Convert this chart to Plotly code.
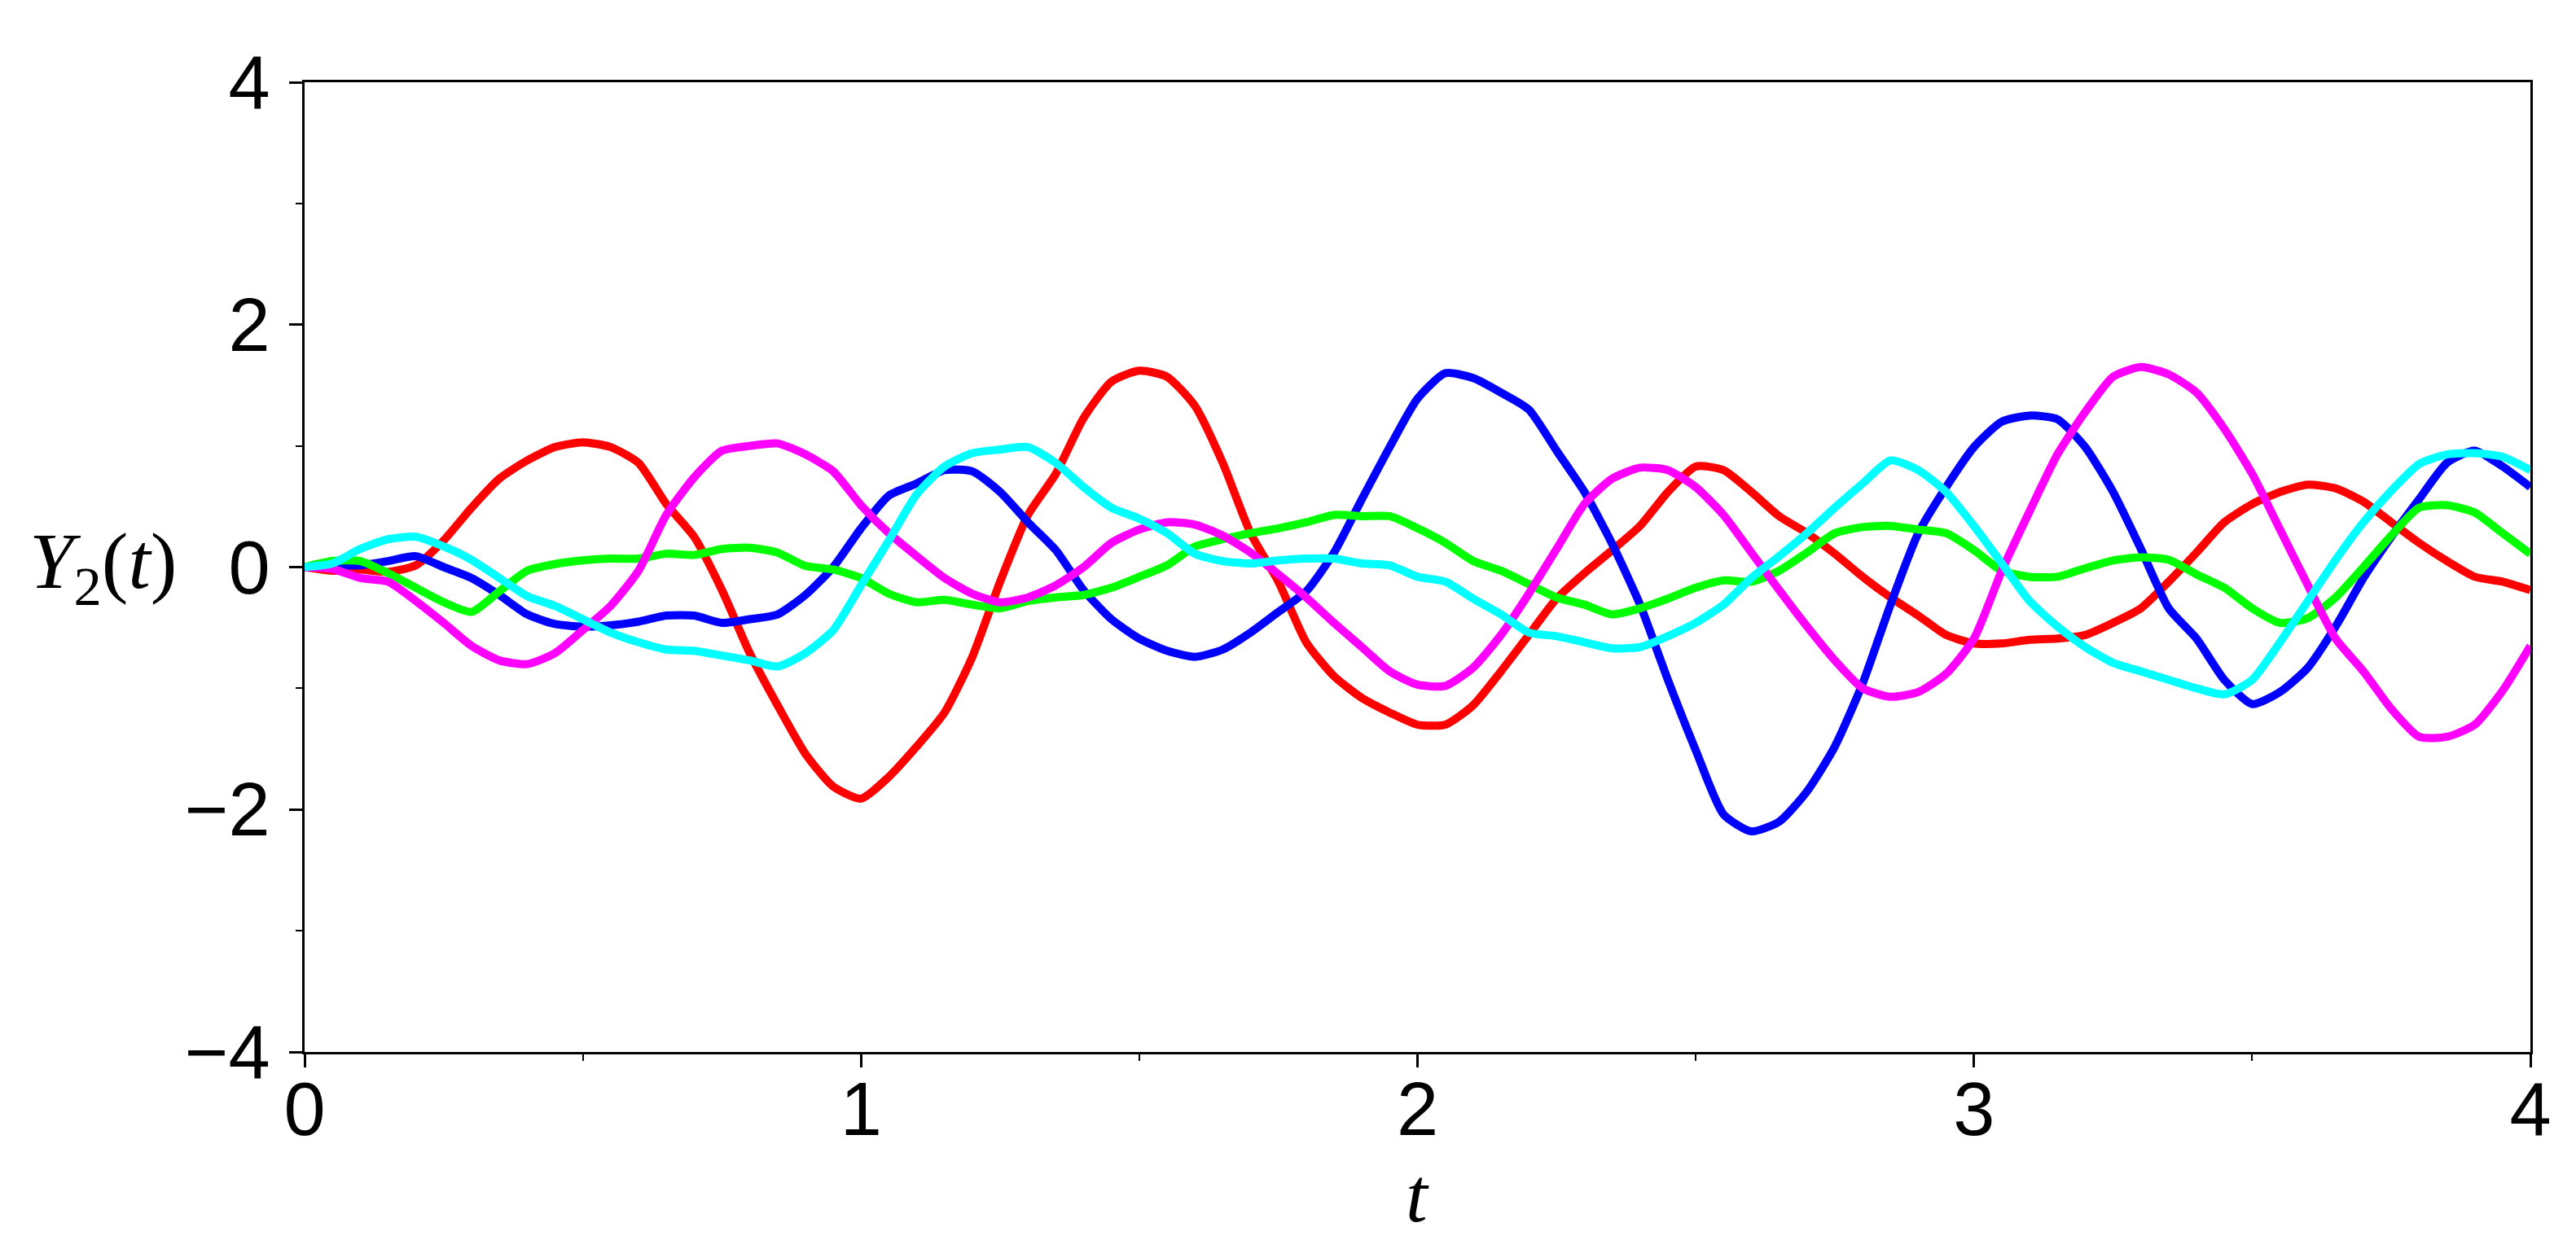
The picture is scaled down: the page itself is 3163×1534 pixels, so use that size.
import plotly.graph_objects as go

t = [round(i * 0.05, 2) for i in range(81)]

y_red = [0, -0.03, -0.02, -0.04, 0.015, 0.22, 0.49, 0.73, 0.88, 0.99,
         1.03, 0.99, 0.86, 0.52, 0.25, -0.19, -0.71, -1.14, -1.54, -1.81,
         -1.91, -1.73, -1.48, -1.20, -0.74, -0.12, 0.43, 0.77, 1.23, 1.53,
         1.62, 1.57, 1.33, 0.86, 0.28, -0.12, -0.62, -0.90, -1.08, -1.20,
         -1.30, -1.30, -1.14, -0.86, -0.56, -0.26, -0.05, 0.14, 0.34, 0.62,
         0.83, 0.80, 0.62, 0.42, 0.28, 0.11, -0.08, -0.25, -0.40, -0.56,
         -0.63, -0.63, -0.60, -0.59, -0.56, -0.46, -0.34, -0.12, 0.12, 0.37,
         0.52, 0.62, 0.68, 0.65, 0.54, 0.37, 0.20, 0.05, -0.08, -0.12,
         -0.19]

y_blue = [0, 0.015, 0.015, 0.05, 0.09, 0.0, -0.09, -0.23, -0.39, -0.47,
          -0.49, -0.48, -0.45, -0.40, -0.40, -0.46, -0.43, -0.39, -0.23, 0.0,
          0.32, 0.59, 0.69, 0.80, 0.79, 0.62, 0.37, 0.14, -0.19, -0.43,
          -0.59, -0.69, -0.74, -0.68, -0.54, -0.37, -0.20, 0.12, 0.56, 0.99,
          1.39, 1.60, 1.56, 1.44, 1.30, 0.96, 0.62, 0.19, -0.31, -0.93,
          -1.51, -2.04, -2.18, -2.10, -1.85, -1.48, -0.96, -0.31, 0.28, 0.66,
          0.99, 1.20, 1.25, 1.22, 0.99, 0.62, 0.15, -0.34, -0.59, -0.93,
          -1.13, -1.03, -0.83, -0.49, -0.09, 0.25, 0.56, 0.86, 0.96, 0.83,
          0.66]

y_green = [0, 0.05, 0.05, -0.05, -0.17, -0.29, -0.37, -0.20, -0.03, 0.025,
           0.055, 0.07, 0.07, 0.11, 0.10, 0.15, 0.16, 0.12, 0.01, -0.02,
           -0.09, -0.22, -0.29, -0.27, -0.31, -0.34, -0.28, -0.25, -0.23, -0.17,
           -0.08, 0.015, 0.17, 0.23, 0.28, 0.32, 0.37, 0.43, 0.42, 0.42,
           0.32, 0.20, 0.05, -0.03, -0.14, -0.25, -0.31, -0.39, -0.34, -0.26,
           -0.17, -0.11, -0.12, -0.03, 0.12, 0.28, 0.33, 0.34, 0.31, 0.28,
           0.14, -0.03, -0.08, -0.08, -0.01, 0.055, 0.08, 0.06, -0.06, -0.17,
           -0.34, -0.46, -0.42, -0.25, 0.0, 0.26, 0.49, 0.51, 0.45, 0.28,
           0.11]

y_magenta = [0, -0.015, -0.09, -0.12, -0.28, -0.46, -0.65, -0.77, -0.80, -0.71,
             -0.52, -0.32, -0.03, 0.43, 0.74, 0.96, 1.00, 1.02, 0.93, 0.79,
             0.51, 0.28, 0.09, -0.09, -0.22, -0.29, -0.25, -0.15, 0.0, 0.20,
             0.31, 0.37, 0.35, 0.26, 0.12, -0.06, -0.25, -0.46, -0.66, -0.86,
             -0.97, -0.98, -0.83, -0.56, -0.22, 0.15, 0.52, 0.73, 0.82, 0.80,
             0.66, 0.43, 0.12, -0.19, -0.49, -0.77, -1.00, -1.07, -1.03, -0.88,
             -0.59, -0.03, 0.46, 0.93, 1.28, 1.57, 1.65, 1.59, 1.44, 1.14,
             0.77, 0.31, -0.15, -0.59, -0.86, -1.17, -1.40, -1.40, -1.30, -1.02,
             -0.65]

y_cyan = [0, 0.03, 0.15, 0.23, 0.25, 0.17, 0.06, -0.09, -0.24, -0.32,
          -0.43, -0.54, -0.62, -0.68, -0.69, -0.73, -0.77, -0.82, -0.71, -0.52,
          -0.15, 0.22, 0.60, 0.83, 0.94, 0.97, 0.99, 0.86, 0.66, 0.49,
          0.40, 0.28, 0.11, 0.05, 0.03, 0.055, 0.07, 0.07, 0.03, 0.015,
          -0.08, -0.12, -0.26, -0.39, -0.54, -0.57, -0.62, -0.67, -0.66, -0.57,
          -0.46, -0.31, -0.09, 0.09, 0.28, 0.49, 0.69, 0.88, 0.80, 0.62,
          0.34, 0.03, -0.28, -0.49, -0.66, -0.79, -0.86, -0.93, -1.00, -1.05,
          -0.93, -0.62, -0.28, 0.06, 0.37, 0.63, 0.85, 0.93, 0.94, 0.91,
          0.80]

series = [
    ("red", y_red, "#ff0000"),
    ("blue", y_blue, "#0000ff"),
    ("green", y_green, "#00ff00"),
    ("magenta", y_magenta, "#ff00ff"),
    ("cyan", y_cyan, "#00ffff"),
]

x_ticks = [0, 1, 2, 3, 4]
y_ticks = [-4, -2, 0, 2, 4]

fig = go.Figure()
for name, ys, col in series:
    fig.add_trace(go.Scatter(x=t, y=ys, mode="lines", name=name,
                             line=dict(color=col, width=10, shape="spline", smoothing=0.6)))

axis_common = dict(
    showline=True, linecolor="black", linewidth=3, mirror=True,
    ticks="outside", ticklen=16, tickwidth=3, tickcolor="black",
    showgrid=False, zeroline=False,
    tickfont=dict(family="Liberation Sans, Arial, sans-serif", size=92, color="black"),
)

fig.update_xaxes(range=[0, 4], tickvals=x_ticks, ticklabelstandoff=-27,
                 minor=dict(ticks="outside", ticklen=8, tickwidth=2, tickcolor="black", dtick=0.5, showgrid=False),
                 **axis_common)
fig.update_yaxes(range=[-4, 4], tickvals=y_ticks, ticklabelstandoff=5,
                 minor=dict(ticks="outside", ticklen=8, tickwidth=2, tickcolor="black", dtick=1, showgrid=False),
                 **axis_common)

fig.add_annotation(text="<i>Y</i><sub>2</sub>(<i>t</i>)", xref="paper", yref="y",
                   x=-0.0906, y=0, xanchor="center", yanchor="middle", showarrow=False,
                   font=dict(family="Liberation Serif, Times New Roman, serif", size=98, color="black"))
fig.add_annotation(text="<i>t</i>", xref="x", yref="paper",
                   x=2, y=-0.147, xanchor="center", yanchor="middle", showarrow=False,
                   font=dict(family="Liberation Serif, Times New Roman, serif", size=96, color="black"))

fig.update_layout(
    width=3163, height=1534,
    margin=dict(l=366, r=64, t=93, b=250),
    paper_bgcolor="white", plot_bgcolor="white",
    showlegend=False,
)

fig.write_html("out.html")
